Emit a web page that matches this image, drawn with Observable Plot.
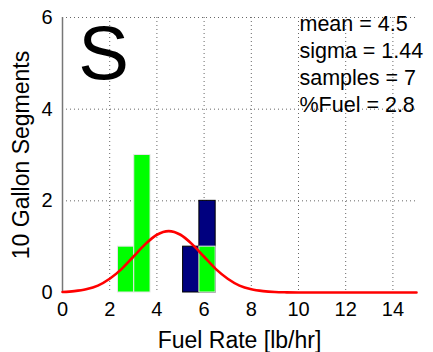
<!DOCTYPE html>
<html>
<head>
<meta charset="utf-8">
<script src="https://cdn.jsdelivr.net/npm/d3@7"></script>
<script src="https://cdn.jsdelivr.net/npm/@observablehq/plot@0.6"></script>
<style>
  html, body { margin: 0; padding: 0; background: #fff; }
  #chart svg { display: block; }
</style>
</head>
<body>
<div id="chart"></div>
<script>
// Histogram bins (fuel rate, lb/hr) and counts
const greenStart = [2.35, 3.04, 5.80];
const greenEnd   = [3.04, 3.73, 6.49];
const greenCount = [1, 3, 1];
const navyStart  = [5.11, 5.80];
const navyEnd    = [5.80, 6.49];
const navyCount  = [1, 2];

// Fitted curve
const curveX = [0, 0.5, 1, 1.5, 2, 2.5, 3, 3.5, 4, 4.5, 5, 5.5, 6, 6.5, 7, 7.5, 8, 8.5, 9, 9.5, 10, 11, 12, 13, 14, 15];
const curveY = [0.01, 0.03, 0.07, 0.15, 0.30, 0.51, 0.78, 1.05, 1.26, 1.34, 1.26, 1.05, 0.78, 0.51, 0.30, 0.15, 0.07, 0.03, 0.01, 0.003, 0, 0, 0, 0, 0, 0];

const xTicks = [0, 2, 4, 6, 8, 10, 12, 14];
const yTicks = [0, 2, 4, 6];
const statsText = ["mean = 4.5", "sigma = 1.44", "samples = 7", "%Fuel = 2.8"];
const bigLetter = "S";

const green = greenStart.map((s, i) => ({x1: s, x2: greenEnd[i], y: greenCount[i]}));
const navy = navyStart.map((s, i) => ({x1: s, x2: navyEnd[i], y: navyCount[i]}));
const curve = curveX.map((x, i) => ({x, y: curveY[i]}));

const font = "'Liberation Sans', Arial, sans-serif";

const chart = Plot.plot({
  width: 433,
  height: 352,
  marginLeft: 62,
  marginRight: 17,
  marginTop: 17,
  marginBottom: 60,
  style: {fontFamily: font, fontSize: "20px", color: "#000", background: "#fff", overflow: "visible"},
  x: {domain: [0, 15], ticks: xTicks, label: null},
  y: {domain: [0, 6], ticks: yTicks, label: null},
  marks: [
    Plot.gridX(xTicks.filter(d => d > 0), {stroke: "#666", strokeOpacity: 1, strokeDasharray: "1,3"}),
    Plot.gridY(yTicks.filter(d => d > 0), {stroke: "#666", strokeOpacity: 1, strokeDasharray: "1,3"}),
    Plot.axisX({ticks: xTicks, tickSize: 0, tickPadding: 9, fontSize: 20, tickFormat: "d", label: null}),
    Plot.axisY({ticks: yTicks, tickSize: 0, tickPadding: 10, fontSize: 20, tickFormat: "d", label: null}),
    Plot.axisX({ticks: [], tickSize: 0, fontSize: 23, label: "Fuel Rate [lb/hr]", labelAnchor: "center", labelOffset: 55, labelArrow: "none"}),
    Plot.axisY({ticks: [], tickSize: 0, fontSize: 23, label: "10 Gallon Segments", labelAnchor: "center", labelOffset: 50, labelArrow: "none"}),
    Plot.rectY(navy, {x1: "x1", x2: "x2", y: "y", fill: "#00007f", stroke: "#000", strokeWidth: 1}),
    Plot.rectY(green, {x1: "x1", x2: "x2", y: "y", fill: "#00ff00", stroke: "#e6e6e6", strokeWidth: 1}),
    Plot.ruleX([0], {y1: 0, y2: 6, stroke: "#777", strokeWidth: 1.5}),
    Plot.line(curve, {x: "x", y: "y", stroke: "#ff0000", strokeWidth: 2.6, curve: "monotone-x"}),
    Plot.text([bigLetter], {frameAnchor: "top-left", text: d => d, fontSize: 76, dx: 41, dy: 8, lineAnchor: "top", textAnchor: "middle", fill: "#000"}),
    Plot.text([statsText.join("\n")], {frameAnchor: "top-right", text: d => d, fontSize: 21.5, textAnchor: "start", lineAnchor: "top", lineHeight: 1.26, dx: -117, dy: -6, fill: "#000"})
  ]
});
document.getElementById("chart").appendChild(chart);
</script>
</body>
</html>
